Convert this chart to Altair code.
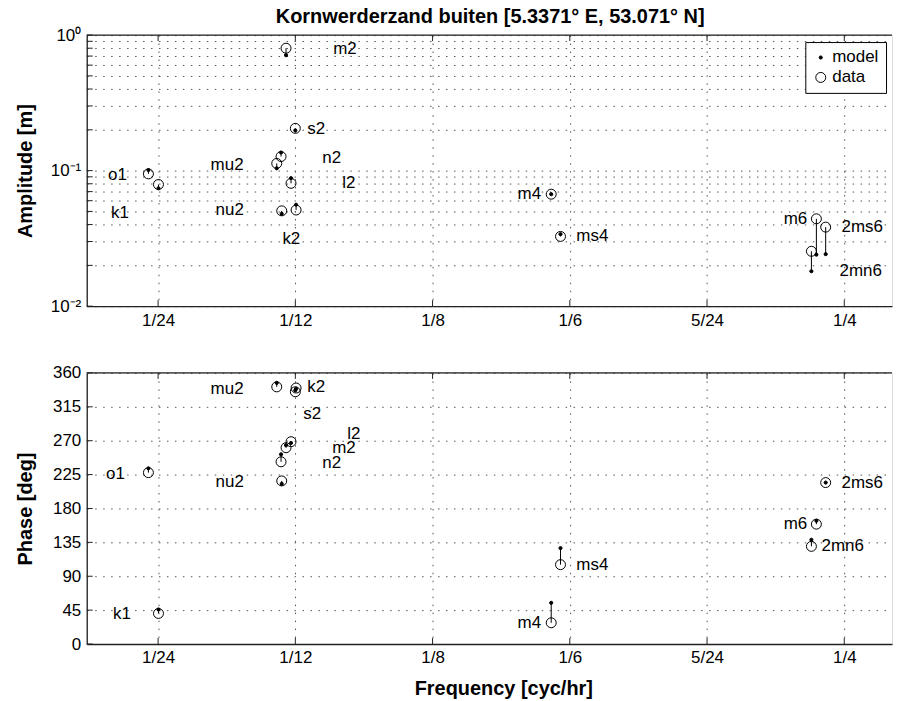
import altair as alt
import pandas as pd

# ---------------- data ----------------
names = ["o1", "k1", "mu2", "n2", "nu2", "m2", "l2", "s2", "k2", "m4", "ms4", "2mn6", "m6", "2ms6"]
freqs = [0.0387307, 0.0417807, 0.0776895, 0.0789992, 0.0792016, 0.0805114, 0.0820236,
         0.0833333, 0.0835615, 0.1610228, 0.1638447, 0.2400221, 0.2415342, 0.2443561]
amp_data = [0.0946, 0.079, 0.113, 0.127, 0.0505, 0.80, 0.0806, 0.205, 0.0512, 0.067, 0.0327, 0.0254, 0.0441, 0.0383]
amp_model = [0.101, 0.074, 0.104, 0.136, 0.048, 0.71, 0.088, 0.198, 0.056, 0.067, 0.034, 0.0181, 0.024, 0.0242]
pha_data = [227.6, 40.6, 341.5, 242.0, 216.6, 260.7, 268.7, 335.0, 340.0, 28.2, 105.4, 129.7, 159.2, 214.4]
pha_model = [233.3, 45.9, 346.8, 251.9, 212.6, 264.0, 267.0, 337.0, 339.0, 54.7, 127.4, 138.5, 163.7, 214.4]

# label anchor positions (left edge of text), in data coordinates
amp_lab_freq = [0.02645, 0.02735, 0.05761, 0.0915, 0.05912, 0.09483, 0.09755, 0.08696, 0.0794,
                0.15081, 0.16866, 0.24854, 0.2316, 0.24915]
amp_lab_val = [0.0935, 0.0485, 0.1107, 0.1231, 0.0508, 0.793, 0.0807, 0.2037, 0.0311,
               0.0670, 0.0327, 0.0181, 0.0436, 0.0383]
pha_lab_freq = [0.02584, 0.02796, 0.05761, 0.0915, 0.05912, 0.09453, 0.09907, 0.08575, 0.08696,
                0.15081, 0.16866, 0.2431, 0.2316, 0.24915]
pha_lab_val = [225.9, 39.3, 339.2, 240.9, 214.8, 260.7, 278.3, 306.1, 341.5,
               28.2, 105.5, 130.6, 159.2, 213.5]

x_ticks = [1 / 24, 1 / 12, 1 / 8, 1 / 6, 5 / 24, 1 / 4]
x_tick_labels = ["1/24", "1/12", "1/8", "1/6", "5/24", "1/4"]
amp_ticks = [k * 10.0 ** e for e in (-2, -1) for k in range(1, 10)] + [1.0]
pha_ticks = [0, 45, 90, 135, 180, 225, 270, 315, 360]

title_text = "Kornwerderzand buiten [5.3371° E, 53.071° N]"
series_names = ["model", "data"]

# ---------------- tables ----------------
base = pd.DataFrame({
    "name": names, "freq": freqs,
    "amp_data": amp_data, "amp_model": amp_model,
    "pha_data": pha_data, "pha_model": pha_model,
    "amp_lab_freq": amp_lab_freq, "amp_lab_val": amp_lab_val,
    "pha_lab_freq": pha_lab_freq, "pha_lab_val": pha_lab_val,
})
long_rows = []
for i, n in enumerate(names):
    long_rows.append({"name": n, "freq": freqs[i], "series": "data", "amp": amp_data[i], "pha": pha_data[i]})
for i, n in enumerate(names):
    long_rows.append({"name": n, "freq": freqs[i], "series": "model", "amp": amp_model[i], "pha": pha_model[i]})
pts = pd.DataFrame(long_rows)
xt = pd.DataFrame({"v": x_ticks})
at = pd.DataFrame({"v": amp_ticks})
pt = pd.DataFrame({"v": pha_ticks})
one = pd.DataFrame({"a": [0]})

FONT = "Liberation Sans"
W, H = 808, 272
TICK = 6
LBL = 17
TTL = 20
GRID = dict(grid=True, gridDash=[1.5, 6.5], gridColor="#555555", gridWidth=1)

xscale = alt.Scale(domain=[0.02, 0.02 + W / 3304.8], nice=False, zero=False)
label_expr = "['1/24','1/12','1/8','1/6','5/24','1/4'][round(datum.value*24)-1]"


def xaxis(with_title):
    kw = dict(values=x_ticks, labelExpr=label_expr, ticks=False, domain=True, domainColor="#222222",
              domainWidth=1.3, labelFontSize=LBL, labelPadding=6, labelFont=FONT, labelColor="black",
              labelFlush=False, **GRID)
    if with_title:
        kw.update(title="Frequency [cyc/hr]", titleFontSize=TTL, titleFont=FONT, titleFontWeight="bold",
                  titleColor="black", titlePadding=13, titleX=418)
    else:
        kw.update(title=None)
    return alt.Axis(**kw)


def panel(yscale, yaxis, ycol_data, ycol_model, ycol_pt, labf, labv, ticks_df, bottom, legend):
    xa = xaxis(bottom)
    X = lambda f: alt.X(f, type="quantitative", scale=xscale, axis=xa)
    Y = lambda f: alt.Y(f, type="quantitative", scale=yscale, axis=yaxis)

    rules = alt.Chart(base).mark_rule(color="black", strokeWidth=1).encode(
        x=X("freq"), y=Y(ycol_data), y2=alt.Y2(ycol_model))

    if legend:
        leg = alt.Legend(title=None, orient="none", legendX=721, legendY=7, strokeColor="black",
                         fillColor="white", padding=7, labelFontSize=LBL, labelFont=FONT,
                         labelColor="black", symbolStrokeWidth=1,
                         symbolType="circle", rowPadding=2, labelOffset=3, cornerRadius=0)
    else:
        leg = None
    points = alt.Chart(pts).mark_point(shape="circle", filled=True, strokeWidth=1, opacity=1).encode(
        x=X("freq"), y=Y(ycol_pt),
        fill=alt.Fill("series:N", scale=alt.Scale(domain=series_names, range=["black", "transparent"]),
                      legend=leg),
        stroke=alt.Stroke("series:N", scale=alt.Scale(domain=series_names, range=["black", "black"]),
                          legend=leg),
        size=alt.Size("series:N", scale=alt.Scale(domain=series_names, range=[10, 100]), legend=leg),
    )

    labels = alt.Chart(base).mark_text(align="left", baseline="middle", fontSize=LBL, font=FONT,
                                       color="black").encode(
        x=X(labf), y=Y(labv), text="name:N")

    left_ticks = alt.Chart(ticks_df).mark_rule(color="#222222", strokeWidth=1).encode(
        x=alt.value(0), x2=alt.value(TICK), y=Y("v"))
    bot_ticks = alt.Chart(xt).mark_rule(color="#222222", strokeWidth=1).encode(
        x=X("v"), y=alt.value(H), y2=alt.value(H - TICK))
    top_ticks = alt.Chart(xt).mark_rule(color="#222222", strokeWidth=1).encode(
        x=X("v"), y=alt.value(0), y2=alt.value(TICK))
    top_border = alt.Chart(one).mark_rule(color="#222222", strokeWidth=1.3).encode(
        x=alt.value(0), x2=alt.value(W), y=alt.value(0))

    return alt.layer(rules, points, labels, left_ticks, bot_ticks, top_ticks, top_border).properties(
        width=W, height=H)


amp_scale = alt.Scale(type="log", domain=[0.01, 1], nice=False)
amp_axis = alt.Axis(values=amp_ticks, ticks=False, domain=True, domainColor="#222222", domainWidth=1.3,
                    labelExpr="datum.value == 1 ? '10⁰' : datum.value == 0.1 ? '10⁻¹' : datum.value == 0.01 ? '10⁻²' : ''",
                    labelFontSize=LBL, labelFont=FONT, labelColor="black", labelPadding=6, labelFlush=False,
                    title="Amplitude [m]", titleFontSize=TTL, titleFont=FONT, titleFontWeight="bold",
                    titleColor="black", titleX=-61, titleY=H / 2, titleBaseline="middle", **GRID)
pha_scale = alt.Scale(domain=[0, 360], nice=False, zero=False)
pha_axis = alt.Axis(values=pha_ticks, ticks=False, domain=True, domainColor="#222222", domainWidth=1.3,
                    labelFontSize=LBL, labelFont=FONT, labelColor="black", labelPadding=6, labelFlush=False,
                    title="Phase [deg]", titleFontSize=TTL, titleFont=FONT, titleFontWeight="bold",
                    titleColor="black", titleX=-61, titleY=H / 2, titleBaseline="middle", **GRID)

top = panel(amp_scale, amp_axis, "amp_data", "amp_model", "amp", "amp_lab_freq", "amp_lab_val", at, False, True)
bottom = panel(pha_scale, pha_axis, "pha_data", "pha_model", "pha", "pha_lab_freq", "pha_lab_val", pt, True, False)

chart = alt.vconcat(top, bottom, spacing=34).resolve_scale(
    y="independent", fill="independent", size="independent", stroke="independent"
).resolve_legend(fill="independent", size="independent", stroke="independent").properties(
    title=alt.TitleParams(title_text, fontSize=TTL, fontWeight="bold", font=FONT, color="black",
                          anchor="middle", offset=-1, dx=36),
    padding={"left": 7, "top": -3, "right": 0, "bottom": 0},
).configure_view(stroke="transparent", strokeWidth=0).configure(font=FONT, background="white")

chart.save("out.html", embed_options={"renderer": "svg", "actions": False})
